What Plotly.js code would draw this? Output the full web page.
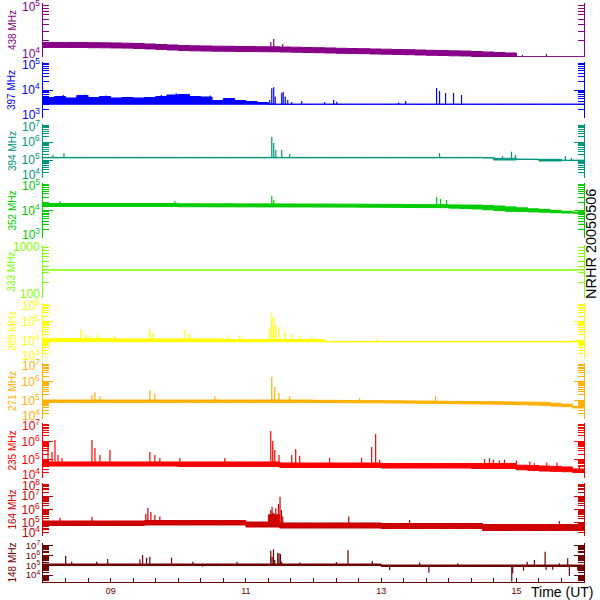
<!DOCTYPE html>
<html><head><meta charset="utf-8">
<script src="https://cdn.plot.ly/plotly-3.0.1.min.js"></script>
<style>html,body{margin:0;padding:0;background:#fff}#chart{width:600px;height:600px}</style>
</head><body><div id="chart"></div>
<script>
// ---------- data (10-minute envelope values from 08:00 to 16:00, 49 samples) ----------
const panelNames = ['438 MHz','397 MHz','394 MHz','352 MHz','333 MHz','289 MHz','271 MHz','235 MHz','164 MHz','148 MHz'];
const panelColors = ['#870087','#0000ff','#00967d','#00cc00','#80ff00','#ffff00','#ffb000','#ff0000','#cc0000','#6e0000'];
const startHour = 8, stepHour = 1/6;
const xTickVals = [9, 11, 13, 15];
const xTickText = ['09', '11', '13', '15'];

const p438_hi = [1.856e4,1.856e4,1.856e4,1.856e4,1.84e4,1.83e4,1.82e4,1.80e4,1.78e4,1.74e4,1.70e4,1.67e4,1.63e4,1.61e4,1.60e4,1.585e4,1.58e4,1.565e4,1.565e4,1.55e4,1.545e4,1.53e4,1.52e4,1.50e4,1.486e4,1.47e4,1.45e4,1.436e4,1.425e4,1.406e4,1.394e4,1.377e4,1.365e4,1.348e4,1.33e4,1.32e4,1.30e4,1.29e4,1.265e4,1.238e4,1.21e4,1.186e4,1.01e4,1.01e4,1.01e4,1.01e4,1.01e4,1.01e4,1.01e4];
const p438_lo = [1.50e4,1.50e4,1.50e4,1.50e4,1.486e4,1.48e4,1.47e4,1.46e4,1.44e4,1.41e4,1.38e4,1.35e4,1.32e4,1.30e4,1.29e4,1.28e4,1.276e4,1.265e4,1.265e4,1.254e4,1.248e4,1.238e4,1.227e4,1.21e4,1.20e4,1.186e4,1.171e4,1.16e4,1.151e4,1.137e4,1.127e4,1.113e4,1.103e4,1.089e4,1.075e4,1.066e4,1.052e4,1.043e4,1.02e4,1.005e4,1.005e4,1.005e4,1.005e4,1.005e4,1.005e4,1.005e4,1.005e4,1.005e4,1.005e4];
const p438_spkT = [11.368, 11.412, 11.545, 15.09, 15.445];
const p438_spkV = [1.9e4, 2.15e4, 1.75e4, 1.09e4, 1.14e4];

const p397_hi = [5.40e3,5.86e3,5.18e3,6.36e3,5.40e3,5.86e3,5.18e3,5.40e3,5.18e3,5.40e3,5.86e3,6.63e3,6.9e3,5.86e3,5.62e3,4.22e3,4.97e3,4.22e3,3.88e3,3.58e3,3.1e3,3.1e3,3.1e3,3.1e3,3.1e3,3.1e3,3.1e3,3.1e3,3.1e3,3.1e3,3.1e3,3.1e3,3.1e3,3.1e3,3.1e3,3.1e3,3.1e3,3.1e3,3.1e3,3.1e3,3.1e3,3.1e3,3.1e3,3.1e3,3.1e3,3.1e3,3.1e3,3.1e3,3.1e3];
const p397_lo = [3.1e3,3.1e3,3.1e3,3.1e3,3.1e3,3.1e3,3.1e3,3.1e3,3.1e3,3.1e3,3.1e3,3.1e3,3.1e3,3.1e3,3.1e3,3.1e3,3.1e3,3.1e3,3.1e3,3.1e3,3.1e3,3.1e3,3.1e3,3.1e3,3.1e3,3.1e3,3.1e3,3.1e3,3.1e3,3.1e3,3.1e3,3.1e3,3.1e3,3.1e3,3.1e3,3.1e3,3.1e3,3.1e3,3.1e3,3.1e3,3.1e3,3.1e3,3.1e3,3.1e3,3.1e3,3.1e3,3.1e3,3.1e3,3.1e3];
const p397_spkT = [8.05,8.30,8.62,8.93,9.75,9.97,10.10,10.47,11.353,11.383,11.412,11.434,11.53,11.552,11.582,11.619,11.678,11.826,12.165,12.298,12.343,13.259,13.362,13.82,13.864,13.953,14.071,14.189];
const p397_spkV = [6.2e3,6.6e3,6.9e3,6.4e3,6.6e3,7.6e3,7.2e3,6.4e3,4.4e3,1.15e4,1.25e4,5.8e3,8.0e3,8.5e3,5.8e3,4.4e3,3.7e3,4.05e3,3.7e3,4.4e3,3.8e3,3.6e3,4.05e3,1.18e4,9.2e3,7.8e3,7.8e3,6.6e3];

const p394_hi = [1.40e5,1.40e5,1.40e5,1.40e5,1.40e5,1.40e5,1.40e5,1.40e5,1.40e5,1.40e5,1.40e5,1.40e5,1.40e5,1.40e5,1.40e5,1.40e5,1.40e5,1.40e5,1.40e5,1.40e5,1.40e5,1.40e5,1.40e5,1.40e5,1.40e5,1.40e5,1.40e5,1.40e5,1.40e5,1.40e5,1.40e5,1.40e5,1.40e5,1.40e5,1.40e5,1.40e5,1.40e5,1.40e5,1.40e5,1.34e5,1.24e5,1.24e5,1.12e5,1.12e5,1.09e5,1.09e5,9.8e4,9.8e4,9.8e4];
const p394_lo = [1.32e5,1.32e5,1.32e5,1.32e5,1.32e5,1.32e5,1.32e5,1.32e5,1.32e5,1.32e5,1.32e5,1.32e5,1.32e5,1.32e5,1.32e5,1.32e5,1.32e5,1.32e5,1.32e5,1.32e5,1.32e5,1.32e5,1.32e5,1.32e5,1.32e5,1.32e5,1.32e5,1.32e5,1.32e5,1.32e5,1.32e5,1.32e5,1.32e5,1.32e5,1.32e5,1.32e5,1.32e5,1.32e5,1.32e5,1.30e5,1.0e5,1.0e5,1.06e5,1.06e5,8.8e4,8.8e4,9.4e4,9.4e4,9.4e4];
const p394_spkT = [8.148,8.31,11.383,11.412,11.442,11.53,11.648,13.864,14.795,14.928,14.987,15.725,15.814];
const p394_spkV = [1.9e5,2.35e5,1.9e6,8.8e5,3.6e5,3.6e5,2.15e5,2.4e5,1.67e5,2.9e5,1.9e5,1.67e5,1.29e5];

const p352_hi = [1.80e4,1.80e4,1.80e4,1.80e4,1.80e4,1.80e4,1.80e4,1.80e4,1.80e4,1.80e4,1.80e4,1.80e4,1.76e4,1.76e4,1.75e4,1.75e4,1.75e4,1.74e4,1.74e4,1.74e4,1.73e4,1.73e4,1.72e4,1.72e4,1.71e4,1.71e4,1.70e4,1.70e4,1.69e4,1.68e4,1.67e4,1.66e4,1.65e4,1.64e4,1.63e4,1.62e4,1.60e4,1.585e4,1.57e4,1.52e4,1.45e4,1.35e4,1.25e4,1.15e4,1.10e4,1.0e4,9.4e3,8.6e3,8.5e3];
const p352_lo = [1.40e4,1.40e4,1.40e4,1.40e4,1.40e4,1.40e4,1.40e4,1.40e4,1.40e4,1.40e4,1.40e4,1.40e4,1.37e4,1.37e4,1.37e4,1.36e4,1.36e4,1.36e4,1.36e4,1.35e4,1.35e4,1.35e4,1.35e4,1.35e4,1.34e4,1.34e4,1.33e4,1.33e4,1.32e4,1.32e4,1.31e4,1.30e4,1.29e4,1.28e4,1.28e4,1.27e4,1.22e4,1.18e4,1.14e4,1.06e4,1.0e4,9.4e3,9.2e3,8.9e3,8.7e3,8.3e3,8.1e3,8.0e3,8.0e3];
const p352_spkT = [8.251,9.95,11.383,11.412,13.82,13.879,13.968];
const p352_spkV = [2.2e4,2.2e4,3.37e4,2.4e4,3.1e4,2.6e4,2.4e4];

const p333_hi = [340,340,340,340,340,340,340,340,340,340,340,340,340,340,340,340,340,340,340,340,340,340,340,340,340,340,340,340,340,340,340,340,340,340,340,340,340,340,340,340,340,340,340,340,340,340,340,340,340];
const p333_lo = p333_hi;
const p333_spkT = [];
const p333_spkV = [];

const p289_hi = [1.25e4,1.25e4,1.25e4,1.25e4,1.25e4,1.25e4,1.18e4,1.18e4,1.18e4,1.18e4,1.18e4,1.18e4,1.18e4,1.18e4,1.18e4,1.18e4,1.11e4,1.11e4,1.11e4,1.11e4,1.11e4,1.11e4,1.11e4,1.11e4,1.11e4,8.4e3,8.4e3,8.4e3,8.4e3,8.4e3,8.4e3,8.4e3,8.4e3,8.4e3,8.4e3,8.4e3,8.4e3,8.4e3,8.4e3,8.4e3,8.4e3,8.4e3,8.4e3,8.4e3,8.4e3,8.4e3,8.4e3,8.4e3,8.4e3];
const p289_lo = [8.4e3,8.4e3,8.4e3,8.4e3,8.4e3,8.4e3,8.4e3,8.4e3,8.4e3,8.4e3,8.4e3,8.4e3,8.4e3,8.4e3,8.4e3,8.4e3,8.4e3,8.4e3,8.4e3,8.4e3,8.4e3,8.4e3,8.4e3,8.4e3,8.4e3,8.4e3,8.4e3,8.4e3,8.4e3,8.4e3,8.4e3,8.4e3,8.4e3,8.4e3,8.4e3,8.4e3,8.4e3,8.4e3,8.4e3,8.4e3,8.4e3,8.4e3,8.4e3,8.4e3,8.4e3,8.4e3,8.4e3,8.4e3,8.4e3];
const p289_spkT = [8.177,8.561,8.635,8.694,8.798,9.064,9.58,9.625,10.097,10.171,10.733,10.91,11.353,11.383,11.412,11.442,11.486,11.575,11.678,11.796,11.973,12.948];
const p289_spkV = [1.45e4,3.9e4,2.2e4,1.7e4,1.93e4,1.7e4,3.9e4,2.5e4,3.6e4,2.2e4,1.9e4,1.7e4,4.6e4,2.9e5,1.57e5,6.6e4,5.2e4,2.8e4,2.2e4,1.7e4,1.5e4,1.2e4];

const p271_hi = [1.04e5,1.04e5,1.04e5,1.04e5,1.04e5,1.04e5,1.04e5,1.04e5,1.04e5,1.04e5,1.04e5,1.04e5,1.04e5,1.04e5,1.04e5,1.04e5,1.04e5,1.04e5,1.04e5,1.04e5,1.04e5,1.04e5,1.04e5,1.04e5,1.0e5,1.0e5,9.9e4,9.8e4,9.7e4,9.6e4,9.5e4,9.4e4,9.3e4,9.2e4,9.1e4,9.0e4,8.8e4,8.7e4,8.6e4,8.5e4,8.4e4,8.2e4,8.1e4,8.0e4,7.8e4,7.0e4,6.2e4,4.6e4,4.4e4];
const p271_lo = [7.8e4,7.8e4,7.8e4,7.8e4,7.8e4,7.8e4,7.8e4,7.8e4,7.8e4,7.8e4,7.8e4,7.8e4,7.8e4,7.8e4,7.8e4,7.8e4,7.8e4,7.8e4,7.8e4,7.8e4,7.8e4,7.8e4,7.8e4,7.8e4,7.6e4,7.6e4,7.5e4,7.5e4,7.4e4,7.4e4,7.3e4,7.2e4,7.1e4,7.0e4,6.9e4,6.8e4,6.6e4,6.5e4,6.4e4,6.3e4,6.2e4,6.0e4,5.8e4,5.6e4,5.4e4,4.9e4,4.6e4,3.9e4,3.9e4];
const p271_spkT = [8.724,8.768,8.842,9.58,9.654,10.541,11.383,11.427,11.49,11.648,12.682,13.805,15.784];
const p271_spkV = [1.93e5,2.7e5,1.7e5,3.6e5,2.2e5,1.7e5,1.78e6,5.2e5,2.5e5,1.7e5,1.33e5,1.7e5,6.4e4];

const p235_hi = [7.5e4,7.5e4,7.5e4,7.5e4,7.5e4,7.5e4,7.5e4,7.5e4,7.5e4,7.5e4,7.5e4,7.5e4,7.5e4,7.5e4,7.5e4,7.5e4,7.5e4,7.5e4,7.5e4,7.5e4,7.5e4,6.6e4,6.6e4,6.6e4,6.6e4,6.6e4,6.6e4,6.6e4,6.6e4,6.6e4,6.2e4,6.2e4,6.2e4,6.2e4,6.2e4,6.2e4,6.2e4,6.2e4,6.2e4,6.2e4,6.2e4,6.2e4,5.0e4,4.8e4,4.5e4,4.3e4,4.0e4,3.1e4,3.1e4];
const p235_lo = [4.5e4,4.5e4,4.5e4,4.5e4,4.5e4,4.5e4,4.5e4,4.5e4,4.5e4,4.5e4,4.5e4,4.5e4,4.24e4,4.24e4,4.24e4,4.24e4,4.24e4,4.24e4,4.24e4,4.24e4,4.24e4,3.74e4,3.74e4,3.74e4,3.74e4,3.74e4,3.74e4,3.74e4,3.74e4,3.74e4,3.5e4,3.5e4,3.5e4,3.5e4,3.5e4,3.5e4,3.5e4,3.5e4,3.3e4,3.3e4,3.3e4,3.3e4,2.8e4,2.6e4,2.4e4,2.3e4,2.2e4,2.0e4,2.0e4];
const p235_spkT = [8.074,8.133,8.177,8.222,8.281,8.724,8.768,8.842,8.99,9.58,9.654,9.728,10.024,10.688,11.368,11.397,11.427,11.49,11.678,11.737,11.796,12.239,12.712,12.86,12.919,12.978,14.529,14.603,14.66,14.75,14.824,15.0,15.2,15.267,15.45,15.6,15.932];
const p235_spkV = [6.3e5,2.6e5,1.18e6,1.8e5,1.23e5,1.18e6,4.3e5,1.8e5,3.4e5,2.6e5,1.8e5,1.23e5,1.23e5,1.23e5,3.66e6,1.04e6,3.4e5,1.8e5,1.8e5,3.8e5,1.6e5,1.23e5,1.23e5,4.9e5,2.5e6,1.0e5,1.09e5,1.2e5,1.0e5,9.0e4,1.0e5,9.0e4,8.0e4,6.5e4,7.0e4,7.0e4,4.5e4];

const p164_hi = [1.36e5,1.36e5,1.36e5,1.36e5,1.36e5,1.36e5,1.36e5,1.36e5,1.36e5,1.48e5,1.48e5,1.48e5,1.48e5,1.48e5,1.48e5,1.48e5,1.48e5,1.48e5,1.14e5,1.14e5,4.0e5,9.6e4,9.6e4,9.6e4,9.6e4,9.6e4,9.6e4,9.6e4,9.6e4,9.6e4,8.8e4,8.8e4,8.8e4,8.8e4,8.8e4,8.8e4,8.8e4,8.8e4,8.8e4,7.4e4,7.4e4,7.4e4,7.4e4,7.4e4,7.4e4,7.4e4,7.4e4,7.4e4,7.4e4];
const p164_lo = [6.2e4,6.2e4,6.2e4,6.2e4,6.2e4,6.2e4,6.2e4,6.2e4,6.2e4,6.8e4,6.8e4,6.8e4,6.8e4,6.8e4,6.8e4,6.8e4,6.8e4,6.8e4,4.78e4,4.78e4,4.78e4,4.0e4,4.0e4,4.0e4,4.0e4,4.0e4,4.0e4,4.0e4,4.0e4,4.0e4,3.68e4,3.68e4,3.68e4,3.68e4,3.68e4,3.68e4,3.68e4,3.68e4,3.68e4,2.6e4,2.6e4,2.6e4,2.6e4,2.6e4,2.6e4,2.6e4,2.6e4,2.6e4,2.6e4];
const p164_spkT = [8.251,8.724,9.521,9.551,9.595,9.654,9.728,11.353,11.368,11.387,11.397,11.412,11.442,11.461,11.482,11.505,11.526,11.545,12.52,13.421,15.637];
const p164_spkV = [2.3e5,2.7e5,4.6e5,1.3e6,6.5e5,3.8e5,3.0e5,4e5,9.2e5,1.63e6,6e5,5.2e5,1.23e6,3.8e5,2.6e6,9.2e6,9.2e5,3e5,2.9e5,1.6e5,1.36e5];

const p148_hi = [1.4e5,1.4e5,1.4e5,1.4e5,1.4e5,1.4e5,1.4e5,1.4e5,1.4e5,1.4e5,1.4e5,1.4e5,1.4e5,1.4e5,1.4e5,1.4e5,1.4e5,1.4e5,1.4e5,1.4e5,1.4e5,1.4e5,1.4e5,1.4e5,1.4e5,1.4e5,1.4e5,1.4e5,1.4e5,1.4e5,1.1e5,1.1e5,1.1e5,1.1e5,1.1e5,1.1e5,1.1e5,1.1e5,1.1e5,1.1e5,1.1e5,1.1e5,1.1e5,1.1e5,1.1e5,1.1e5,1.1e5,1.1e5,1.1e5];
const p148_lo = [9.8e4,9.8e4,9.8e4,9.8e4,9.8e4,9.8e4,9.8e4,9.8e4,9.8e4,9.8e4,9.8e4,9.8e4,9.8e4,9.8e4,9.8e4,9.8e4,9.8e4,9.8e4,9.8e4,9.8e4,9.8e4,9.8e4,9.8e4,9.8e4,9.8e4,9.8e4,9.8e4,9.8e4,9.8e4,9.8e4,7.8e4,7.8e4,7.8e4,7.8e4,7.8e4,7.8e4,7.8e4,7.8e4,7.8e4,7.8e4,7.8e4,7.8e4,7.8e4,7.8e4,7.8e4,7.8e4,7.8e4,7.8e4,7.8e4];
const p148_spkT = [8.335,8.424,8.793,8.956,9.433,9.473,9.532,9.58,9.901,10.216,10.363,10.87,11.368,11.387,11.408,11.427,11.471,11.49,11.511,11.53,11.796,12.338,12.51,12.87,13.126,13.569,13.706,14.134,14.932,14.946,15.105,15.16,15.267,15.425,15.44,15.538,15.637,15.759,15.784,15.907];
const p148_spkV = [1.0e6,2.4e5,2.4e5,4.6e5,4.3e5,1.17e6,6.2e5,7.9e5,6.2e5,2.4e5,7.4e4,2.4e5,3.2e6,7.9e5,4.5e6,3.6e5,2.0e6,1.75e6,1.5e6,2.4e5,2e5,2.2e5,3.8e6,2.8e5,3.4e4,2.0e5,1.8e4,1.66e5,2.1e3,1.55e4,2.9e4,2.4e5,3.6e5,2.5e6,3.4e4,3.7e4,1.66e5,5.4e5,8.2e3,3.0e4];

const series = [
  [p438_hi,p438_lo,p438_spkT,p438_spkV],
  [p397_hi,p397_lo,p397_spkT,p397_spkV],
  [p394_hi,p394_lo,p394_spkT,p394_spkV],
  [p352_hi,p352_lo,p352_spkT,p352_spkV],
  [p333_hi,p333_lo,p333_spkT,p333_spkV],
  [p289_hi,p289_lo,p289_spkT,p289_spkV],
  [p271_hi,p271_lo,p271_spkT,p271_spkV],
  [p235_hi,p235_lo,p235_spkT,p235_spkV],
  [p164_hi,p164_lo,p164_spkT,p164_spkV],
  [p148_hi,p148_lo,p148_spkT,p148_spkV]
];

// ---------- layout geometry ----------
const FONT = 'Liberation Sans, Arial, sans-serif';
const TOP = 3, BOT = 582, PH = BOT - TOP;
const panelPx = [[3,57],[62,118],[124,178],[183,238],[245,298.3],[303,359],[363,419],[423,478],[483,536],[543,582]];
const yRanges = [[4,5],[3,5],[4,7],[3,5],[2,3],[3,6],[4,7],[4,7],[4,8],[3.3,7.3]];
const labelSizes = [12,12,12,12,12,12,12,12,12,9.5];
const XC = '#6e0000';

const traces = [];
const minorX = [];
for (let k = 1; k < 24; k++) { const v = 8 + k/3; if (!xTickVals.some(t => Math.abs(t - v) < 1e-6)) minorX.push(v); }

const layout = {
  width: 600, height: 600,
  margin: {l: 43, r: 16, t: 3, b: 18, pad: 0},
  paper_bgcolor: '#ffffff', plot_bgcolor: '#ffffff',
  showlegend: false,
  font: {family: FONT},
  xaxis: {
    range: [8, 16], anchor: 'y10', showline: true, linecolor: XC, linewidth: 1,
    ticks: 'inside', ticklen: 4, tickwidth: 1, tickcolor: XC,
    tickmode: 'array', tickvals: xTickVals, ticktext: xTickText,
    tickfont: {color: XC, size: 9, family: FONT},
    minor: {ticks: 'inside', ticklen: 4, tickwidth: 1, tickcolor: XC, tickmode: 'array', tickvals: minorX, showgrid: false},
    showgrid: false, zeroline: false, fixedrange: true
  },
  annotations: [
    {xref: 'paper', yref: 'paper', x: (591 - 43) / 541, y: (BOT - 244) / PH, text: 'NRHR 20050506', textangle: -90,
     showarrow: false, font: {family: FONT, size: 14.5, color: '#000'}, xanchor: 'center', yanchor: 'middle'},
    {xref: 'paper', yref: 'paper', x: (561.5 - 43) / 541, y: (BOT - 591.5) / PH, text: 'Time (UT)',
     showarrow: false, font: {family: FONT, size: 14, color: '#000'}, xanchor: 'center', yanchor: 'middle'}
  ]
};

series.forEach((s, i) => {
  const [hi, lo, spkT, spkV] = s;
  const col = panelColors[i];
  const ref = i === 0 ? 'y' : 'y' + (i + 1);
  const axName = i === 0 ? 'yaxis' : 'yaxis' + (i + 1);
  traces.push({x0: startHour, dx: stepHour, y: lo, xaxis: 'x', yaxis: ref, mode: 'lines',
               line: {color: col, width: 1, shape: 'hv'}, hoverinfo: 'skip'});
  traces.push({x0: startHour, dx: stepHour, y: hi, xaxis: 'x', yaxis: ref, mode: 'lines', fill: 'tonexty', fillcolor: col,
               line: {color: col, width: 1, shape: 'hv'}, hoverinfo: 'skip'});
  const sx = [], sy = [];
  spkT.forEach((t, j) => {
    const k = Math.min(lo.length - 1, Math.floor((t - startHour) / stepHour));
    sx.push(t, t, null); sy.push(lo[k], spkV[j], null);
  });
  if (sx.length) traces.push({x: sx, y: sy, xaxis: 'x', yaxis: ref, mode: 'lines',
               line: {color: col, width: 1.2}, hoverinfo: 'skip', connectgaps: false});

  const [rlo, rhi] = yRanges[i];
  const [pt, pb] = panelPx[i];
  const fs = labelSizes[i];
  const decs = [];
  for (let e = Math.ceil(rlo - 1e-9); e <= Math.floor(rhi + 1e-9); e++) decs.push(e);
  const tickvals = decs.map(e => Math.pow(10, e));
  const labels = decs.map(e => i === 4 ? String(Math.pow(10, e)) : '10<sup>' + e + '</sup>');
  const ticktext = labels.slice();
  const edgeLabels = [];
  if (Math.abs(decs[0] - rlo) < 1e-9) { edgeLabels.push([rlo, labels[0], 4]); ticktext[0] = ' '; }
  const last = decs.length - 1;
  if (Math.abs(decs[last] - rhi) < 1e-9) { edgeLabels.push([rhi, labels[last], i === 0 ? -3 : -2]); ticktext[last] = ' '; }
  const minorvals = [];
  for (let e = Math.floor(rlo); e < Math.ceil(rhi); e++) for (let m = 2; m <= 9; m++) minorvals.push(m * Math.pow(10, e));
  layout[axName] = {
    type: 'log', range: [rlo, rhi], domain: [(BOT - pb) / PH, (BOT - pt) / PH], anchor: 'x',
    showline: true, linecolor: col, linewidth: 1, mirror: 'ticks',
    ticks: 'inside', ticklen: 10, tickwidth: 1, tickcolor: col,
    tickmode: 'array', tickvals: tickvals, ticktext: ticktext,
    tickfont: {color: col, size: fs, family: FONT},
    minor: {ticks: 'inside', ticklen: 6, tickwidth: 1, tickcolor: col, tickmode: 'array', tickvals: minorvals, showgrid: false},
    showgrid: false, zeroline: false, fixedrange: true
  };
  edgeLabels.forEach(([yv, txt, shift]) => {
    layout.annotations.push({xref: 'paper', x: 0, xanchor: 'right', xshift: -2, yref: ref, y: yv, yanchor: 'middle', yshift: shift,
      text: txt, showarrow: false, font: {color: col, size: fs, family: FONT}, borderpad: 0});
  });
  layout.annotations.push({xref: 'paper', x: (12 - 43) / 541, xanchor: 'center', yref: ref + ' domain', y: 0.5, yanchor: 'middle',
    text: panelNames[i], textangle: -90, showarrow: false, font: {color: col, size: 10, family: FONT}});
});

Plotly.newPlot('chart', traces, layout, {staticPlot: true, displayModeBar: false});
</script></body></html>
